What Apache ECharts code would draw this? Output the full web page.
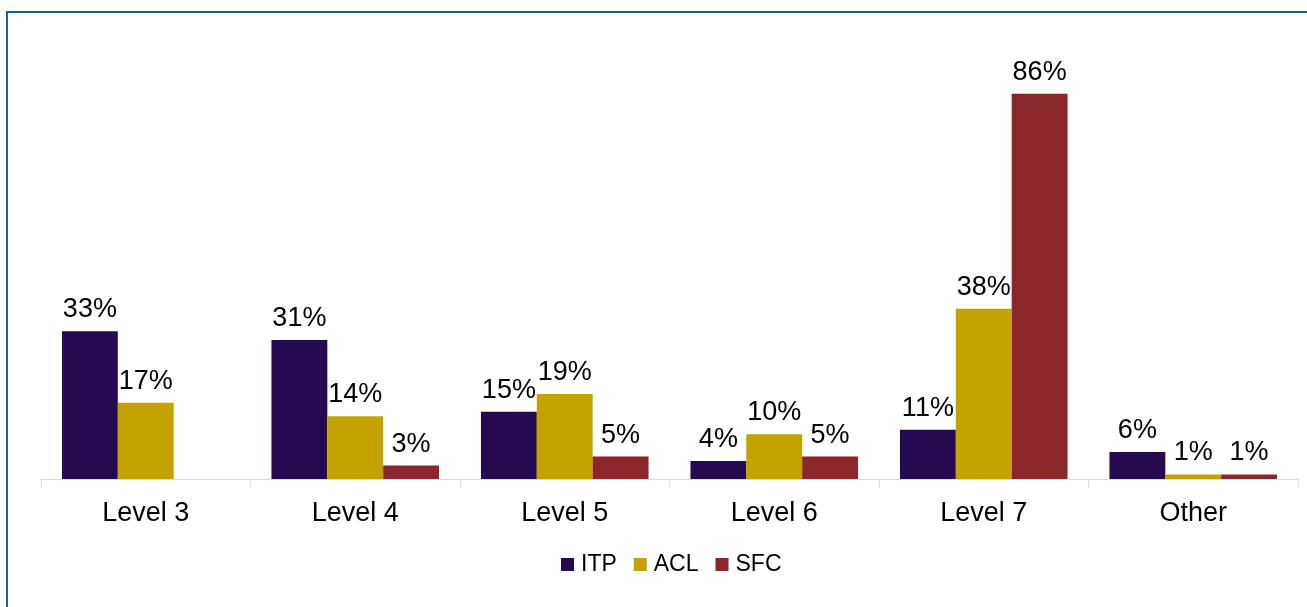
<!DOCTYPE html>
<html>
<head>
<meta charset="utf-8">
<script src="https://cdn.jsdelivr.net/npm/echarts@6/dist/echarts.min.js"></script>
<style>
    html, body { margin: 0; padding: 0; width: 100%; height: 100%; background: #fff; overflow: hidden; }
    #frame {
        position: absolute; left: 6px; top: 11px; width: 1320px; height: 620px;
        border: 2px solid #1f5f8b; box-sizing: border-box;
    }
    #main { position: absolute; left: 0; top: 0; width: 1307px; height: 607px; }
</style>
</head>
<body>
<div id="frame"></div>
<div id="main"></div>
<script>
    // categories and series (percent)
    var categories = ['Level 3', 'Level 4', 'Level 5', 'Level 6', 'Level 7', 'Other'];
    var itp = [33, 31, 15, 4, 11, 6];
    var acl = [17, 14, 19, 10, 38, 1];
    var sfc = [null, 3, 5, 5, 86, 1];

    var font = 'Arial, "Liberation Sans", sans-serif';

    function barSeries(name, data, color) {
        return {
            name: name,
            type: 'bar',
            data: data,
            barGap: '0%',
            barCategoryGap: '20%',
            itemStyle: { color: color },
            label: {
                show: true,
                position: 'top',
                distance: 8,
                formatter: '{c}%',
                color: '#000',
                fontSize: 27,
                fontFamily: font
            }
        };
    }

    var myChart = echarts.init(document.getElementById('main'));
    myChart.setOption({
        animation: false,
        grid: { left: 41, right: 9, top: 31, bottom: 128 },
        legend: {
            data: ['ITP', 'ACL', 'SFC'],
            bottom: 26,
            left: 556,
            icon: 'rect',
            itemWidth: 13,
            itemHeight: 13,
            itemGap: 17,
            textStyle: { fontSize: 23, color: '#000', fontFamily: font, padding: [0, 0, 0, 2] }
        },
        xAxis: {
            type: 'category',
            data: categories,
            axisLine: { lineStyle: { color: '#d9d9d9', width: 1 } },
            axisTick: { show: true, length: 8, lineStyle: { color: '#d9d9d9' } },
            axisLabel: { color: '#000', fontSize: 27, fontFamily: font, margin: 21 }
        },
        yAxis: {
            type: 'value',
            min: 0,
            max: 100,
            show: false,
            splitLine: { show: false }
        },
        series: [
            barSeries('ITP', itp, '#250a52'),
            barSeries('ACL', acl, '#c4a300'),
            barSeries('SFC', sfc, '#8b262c')
        ]
    });
</script>
</body>
</html>
